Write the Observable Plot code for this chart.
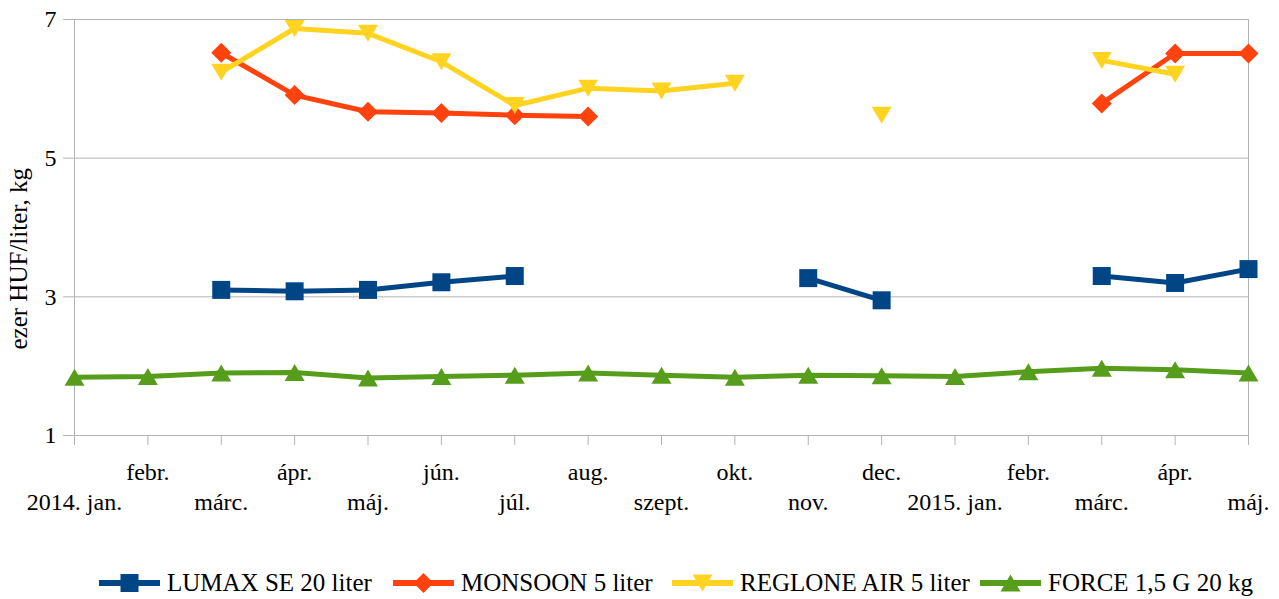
<!DOCTYPE html>
<html>
<head>
<meta charset="utf-8">
<script src="https://cdn.jsdelivr.net/npm/d3@7"></script>
<script src="https://cdn.jsdelivr.net/npm/@observablehq/plot@0.6"></script>
<style>
  html, body { margin: 0; padding: 0; background: #fff; overflow: hidden; }
  #chart { width: 1279px; height: 599px; position: relative; font-family: "Liberation Serif", "Times New Roman", serif; }
  #legend { position: relative; height: 69px; width: 1279px; }
  .item { position: absolute; top: 38px; height: 30px; display: flex; align-items: center; font-size: 25px; color: #000; white-space: nowrap; }
  .item svg { margin-right: 7px; }
</style>
</head>
<body>
<div id="chart"></div>
<script>
const months = ["2014. jan.","febr.","márc.","ápr.","máj.","jún.","júl.","aug.","szept.","okt.","nov.","dec.","2015. jan.","febr.","márc.","ápr.","máj."];
const yTicks = [1, 3, 5, 7];
const yLabel = "ezer HUF/liter, kg";

const seriesNames = ["LUMAX SE 20 liter", "MONSOON 5 liter", "REGLONE AIR 5 liter", "FORCE 1,5 G 20 kg"];
const seriesColors = ["#004586", "#ff420e", "#ffd320", "#579d1c"];

const lumax   = [null, null, 3.10, 3.08, 3.10, 3.21, 3.30, null, null, null, 3.27, 2.95, null, null, 3.30, 3.20, 3.40];
const monsoon = [null, null, 6.52, 5.91, 5.67, 5.65, 5.62, 5.60, null, null, null, null, null, null, 5.79, 6.51, 6.51];
const reglone = [null, null, 6.24, 6.87, 6.80, 6.39, 5.76, 6.01, 5.97, 6.08, null, 5.62, null, null, 6.41, 6.21, null];
const force   = [1.84, 1.85, 1.90, 1.91, 1.83, 1.85, 1.87, 1.90, 1.87, 1.84, 1.87, 1.86, 1.85, 1.92, 1.97, 1.95, 1.90];

const seriesValues = [lumax, monsoon, reglone, force];

// custom marker symbols
const symSquare = { draw(ctx) { ctx.moveTo(-9, -9); ctx.lineTo(9, -9); ctx.lineTo(9, 9); ctx.lineTo(-9, 9); ctx.closePath(); } };
const symDiamond = { draw(ctx) { ctx.moveTo(0, -10); ctx.lineTo(10, 0); ctx.lineTo(0, 10); ctx.lineTo(-10, 0); ctx.closePath(); } };
const symTriDown = { draw(ctx) { ctx.moveTo(-10, -8.5); ctx.lineTo(10, -8.5); ctx.lineTo(0, 8.5); ctx.closePath(); } };
const symTriUp = { draw(ctx) { ctx.moveTo(0, -8.5); ctx.lineTo(10, 8.5); ctx.lineTo(-10, 8.5); ctx.closePath(); } };
const symbols = [symSquare, symDiamond, symTriDown, symTriUp];

const idx = months.map((_, i) => i);
const rows = seriesValues.map(vals => vals.map((v, i) => ({i, v})));

const grid = "#b3b3b3";

const marks = [
  Plot.gridY(yTicks, {stroke: grid, strokeOpacity: 1, strokeWidth: 1}),
  Plot.ruleX([0, months.length - 1], {stroke: grid, strokeWidth: 1}),
  Plot.axisY({ticks: yTicks, tickSize: 11, tickPadding: 7, stroke: grid, fontSize: 24, label: null, tickFormat: d => String(d)}),
  Plot.axisX({ticks: idx, tickSize: 10, tickFormat: () => "", stroke: grid, label: null}),
  Plot.text(idx.filter(i => i % 2 === 1), {x: d => d, text: d => months[d], frameAnchor: "bottom", dy: 37, fontSize: 24, fill: "#000", lineAnchor: "middle"}),
  Plot.text(idx.filter(i => i % 2 === 0), {x: d => d, text: d => months[d], frameAnchor: "bottom", dy: 67, fontSize: 24, fill: "#000", lineAnchor: "middle"}),
  Plot.text([yLabel], {frameAnchor: "left", y: () => 3.55, dx: -56, rotate: -90, fontSize: 25, fill: "#000", text: d => d, textAnchor: "middle", lineAnchor: "middle"})
];

rows.forEach((data, k) => {
  marks.push(Plot.line(data, {x: "i", y: "v", stroke: seriesColors[k], strokeWidth: 5, curve: "linear"}));
  marks.push(Plot.dot(data.filter(d => d.v != null), {x: "i", y: "v", symbol: () => symbols[k], fill: seriesColors[k], stroke: "none", r: 1}));
});

const plot = Plot.plot({
  width: 1279,
  height: 530,
  marginLeft: 74,
  marginRight: 31,
  marginTop: 19,
  marginBottom: 95,
  style: {fontFamily: "'Liberation Serif', 'Times New Roman', serif", fontSize: "24px", background: "#fff", color: "#000"},
  x: {type: "linear", domain: [0, months.length - 1], axis: null},
  y: {type: "linear", domain: [1, 7], axis: null},
  symbol: {type: "identity"},
  marks
});

const chart = document.getElementById("chart");
chart.appendChild(plot);

// legend
const legend = document.createElement("div");
legend.id = "legend";
const lefts = [99, 393, 672, 980];
seriesNames.forEach((name, k) => {
  const item = document.createElement("div");
  item.className = "item";
  item.style.left = lefts[k] + "px";
  const ns = "http://www.w3.org/2000/svg";
  const sw = document.createElementNS(ns, "svg");
  sw.setAttribute("width", 61);
  sw.setAttribute("height", 22);
  const ln = document.createElementNS(ns, "line");
  ln.setAttribute("x1", 0); ln.setAttribute("x2", 61);
  ln.setAttribute("y1", 11); ln.setAttribute("y2", 11);
  ln.setAttribute("stroke", seriesColors[k]); ln.setAttribute("stroke-width", 6);
  sw.appendChild(ln);
  const p = document.createElementNS(ns, "path");
  const path = d3.path();
  symbols[k].draw(path);
  p.setAttribute("d", path.toString());
  p.setAttribute("transform", "translate(30.5,11)");
  p.setAttribute("fill", seriesColors[k]);
  sw.appendChild(p);
  item.appendChild(sw);
  const t = document.createElement("span");
  t.textContent = name;
  item.appendChild(t);
  legend.appendChild(item);
});
chart.appendChild(legend);
</script>
</body>
</html>
